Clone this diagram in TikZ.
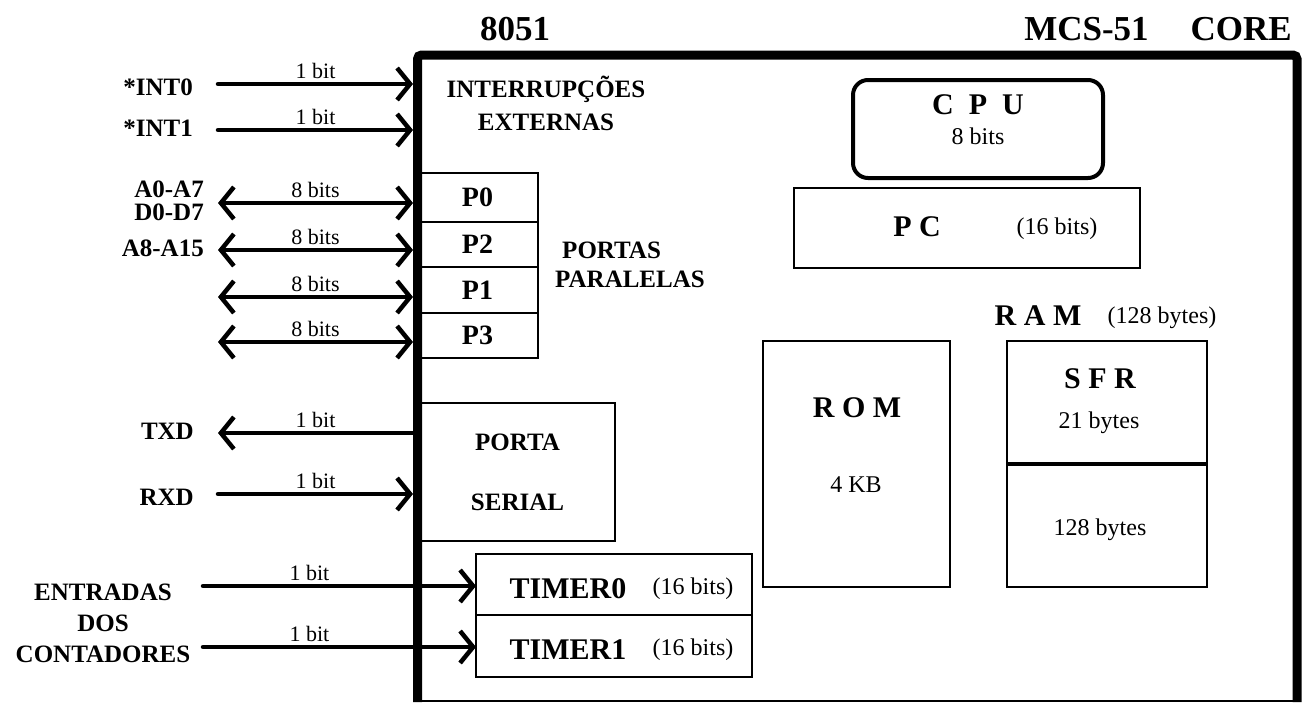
\documentclass[tikz,border=0pt]{standalone}
\usepackage{fontspec}
\setmainfont{Liberation Serif}
\usetikzlibrary{arrows.meta}

\tikzset{
  pinlabel/.style={font=\fontsize{25}{25}\selectfont\bfseries, inner sep=0pt},
  buswidth/.style={font=\fontsize{22}{22}\selectfont, inner sep=0pt, above=3pt},
  bigname/.style={font=\fontsize{30}{30}\selectfont\bfseries, inner sep=0pt},
  portname/.style={font=\fontsize{28}{28}\selectfont\bfseries},
  sizetext/.style={font=\fontsize{24}{24}\selectfont, inner sep=0pt},
  blockbox/.style={draw=black, line width=2pt, inner sep=0pt, outer sep=0pt},
  inbus/.style={line width=4.5pt, line cap=round, -{Straight Barb[length=13pt,width=32pt]}},
  outbus/.style={line width=4.5pt, line cap=round, {Straight Barb[length=13pt,width=32pt]}-},
  iobus/.style={line width=4.5pt, line cap=round, {Straight Barb[length=13pt,width=32pt]}-{Straight Barb[length=13pt,width=32pt]}},
}

\begin{document}
\begin{tikzpicture}[x=1pt, y=-1pt]
\useasboundingbox (0,0) rectangle (1307,704);

\draw[line width=9pt, rounded corners=4pt] (417.5,702) -- (417.5,55) -- (1297,55) -- (1297,702);
\draw[line width=1.5pt] (417.5,701) -- (1297,701);

\node[font=\fontsize{35}{35}\selectfont\bfseries, inner sep=0pt] (chip) at (515,29) {8051};
\node[font=\fontsize{35}{35}\selectfont\bfseries, inner sep=0pt, anchor=east] (core) at (1292,29) {MCS-51\hspace{42pt}CORE};

\node[pinlabel, align=center, font=\fontsize{25}{33}\selectfont\bfseries] (irq) at (546,103) {INTERRUPÇÕES\\EXTERNAS};

\node[pinlabel, anchor=east] (int0) at (193,87) {*INT0};
\node[pinlabel, anchor=east] (int1) at (193,128) {*INT1};
\node[pinlabel, anchor=east, align=right, font=\fontsize{25}{23}\selectfont\bfseries] (addrlo) at (204,201) {A0-A7\\D0-D7};
\node[pinlabel, anchor=east] (addrhi) at (204,248) {A8-A15};
\node[pinlabel, anchor=east] (txd) at (194,431) {TXD};
\node[pinlabel, anchor=east] (rxd) at (194,497) {RXD};
\node[pinlabel, align=center, font=\fontsize{25}{31}\selectfont\bfseries] (counters) at (103,623) {ENTRADAS\\DOS\\CONTADORES};

\coordinate (int0tail) at (218,84);
\coordinate (int0tip) at (413,84);
\coordinate (int1tail) at (218,130);
\coordinate (int1tip) at (413,130);
\draw[inbus] (int0tail) -- node[buswidth] {1 bit} (int0tip);
\draw[inbus] (int1tail) -- node[buswidth] {1 bit} (int1tip);

\node[blockbox, portname, minimum width=121pt, minimum height=49pt] (p0) at (477.5,197.5) {P0};
\node[blockbox, portname, minimum width=121pt, minimum height=45pt] (p2) at (477.5,244.5) {P2};
\node[blockbox, portname, minimum width=121pt, minimum height=46pt] (p1) at (477.5,290) {P1};
\node[blockbox, portname, minimum width=121pt, minimum height=45pt] (p3) at (477.5,335.5) {P3};
\node[pinlabel, align=left, font=\fontsize{25}{29}\selectfont\bfseries] (parallel) at (630,265) {\hspace*{7pt}PORTAS\\PARALELAS};

\coordinate (p0tail) at (218,203);
\coordinate (p0tip) at (413,203);
\coordinate (p2tail) at (218,250);
\coordinate (p2tip) at (413,250);
\coordinate (p1tail) at (218,297);
\coordinate (p1tip) at (413,297);
\coordinate (p3tail) at (218,342);
\coordinate (p3tip) at (413,342);
\draw[iobus] (p0tail) -- node[buswidth] {8 bits} (p0tip);
\draw[iobus] (p2tail) -- node[buswidth] {8 bits} (p2tip);
\draw[iobus] (p1tail) -- node[buswidth] {8 bits} (p1tip);
\draw[iobus] (p3tail) -- node[buswidth] {8 bits} (p3tip);

\node[blockbox, minimum width=195pt, minimum height=138pt, align=center, font=\fontsize{25}{60}\selectfont\bfseries] (serial) at (517.5,472) {PORTA\\SERIAL};
\coordinate (txdtip) at (218,433);
\coordinate (txdtail) at (413,433);
\coordinate (rxdtail) at (218,494);
\coordinate (rxdtip) at (413,494);
\draw[outbus] (txdtip) -- node[buswidth] {1 bit} (txdtail);
\draw[inbus] (rxdtail) -- node[buswidth] {1 bit} (rxdtip);

\node[blockbox, minimum width=276pt, minimum height=61pt] (t0) at (614,584.5) {};
\node[blockbox, minimum width=276pt, minimum height=62pt] (t1) at (614,646) {};
\node[bigname] (t0name) at (568,589) {TIMER0};
\node[sizetext] (t0bits) at (693,589) {(16 bits)};
\node[bigname] (t1name) at (568,650) {TIMER1};
\node[sizetext] (t1bits) at (693,650) {(16 bits)};
\coordinate (t0tail) at (203,586);
\coordinate (t1tail) at (203,647);
\draw[inbus] (t0tail) -- node[buswidth, pos=0.39] {1 bit} (t0.west |- t0tail);
\draw[inbus] (t1tail) -- node[buswidth, pos=0.39] {1 bit} (t1.west |- t1tail);

\node[blockbox, line width=4pt, rounded corners=15pt, minimum width=250pt, minimum height=98pt] (cpu) at (978,129) {};
\node[bigname] (cpuname) at (978,105) {C\ \ P\ \ U};
\node[sizetext] (cpubits) at (978,136) {8 bits};

\node[blockbox, minimum width=346pt, minimum height=80pt] (pc) at (967,228) {};
\node[bigname] (pcname) at (917,227) {P C};
\node[sizetext] (pcbits) at (1057,229) {(16 bits)};

\node[blockbox, minimum width=187pt, minimum height=246pt] (rom) at (856.5,464) {};
\node[bigname] (romname) at (857,408) {R O M};
\node[sizetext] (romsize) at (856,485) {4 KB};

\node[bigname] (ramname) at (1038,316) {R A M};
\node[sizetext] (ramsize) at (1162,318) {(128 bytes)};
\node[blockbox, minimum width=200pt, minimum height=123pt] (sfr) at (1107,402.5) {};
\node[blockbox, minimum width=200pt, minimum height=123pt] (iram) at (1107,525.5) {};
\draw[line width=4pt] (sfr.south west) -- (sfr.south east);
\node[bigname] (sfrname) at (1100,379) {S F R};
\node[sizetext] (sfrsize) at (1099,423) {21 bytes};
\node[sizetext] (iramsize) at (1100,530) {128 bytes};

\end{tikzpicture}
\end{document}
